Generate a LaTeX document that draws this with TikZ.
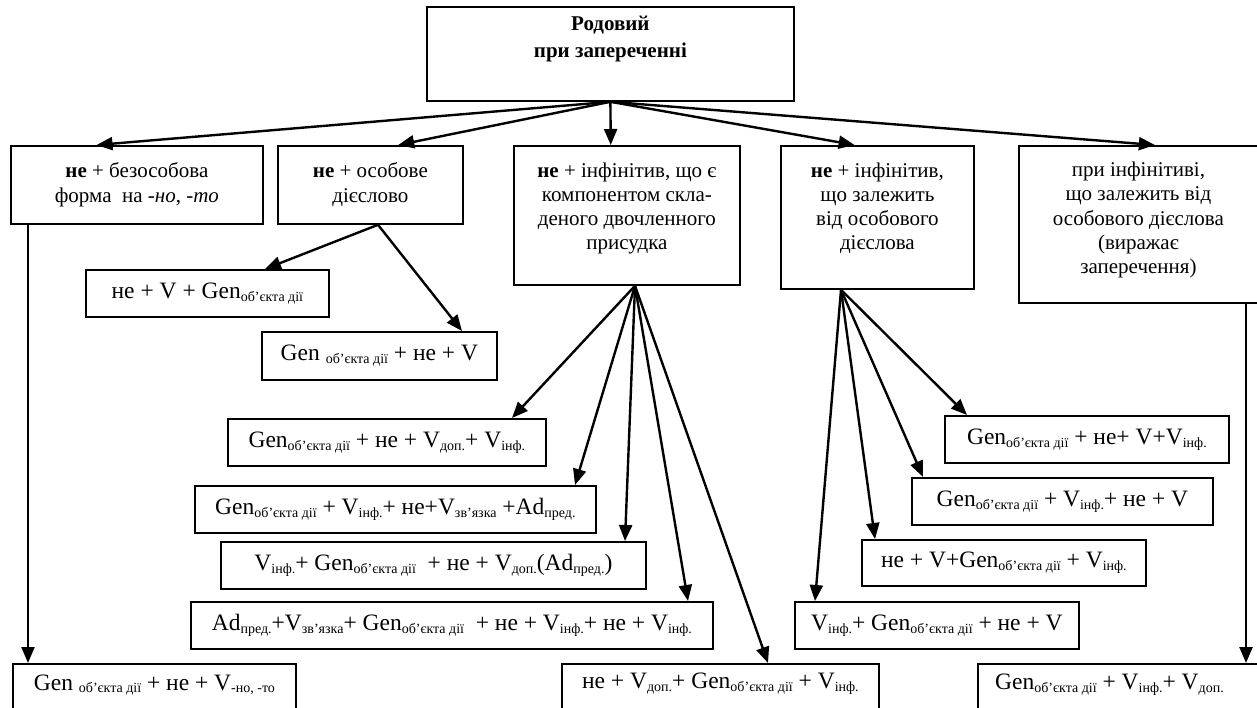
\documentclass[tikz,border=0pt]{standalone}
\usepackage{fontspec}
\setmainfont{Liberation Serif}
\usetikzlibrary{arrows.meta,calc}
% small lowered index text used in the formulas
\newcommand{\lo}[1]{\raisebox{-2.8pt}{\fontsize{14}{14}\selectfont #1}}
% rectangle node given by its corners (x1,y1) top-left, (x2,y2) bottom-right
\newcommand{\boxat}[5]{\node[box, minimum width={(#4-#2)*1pt}, minimum height={(#5-#3)*1pt}] (#1) at (#2,#3) {};}
\begin{document}
\begin{tikzpicture}[x=1pt,y=-1pt,
  box/.style={draw, line width=1.8pt, anchor=north west, inner sep=0pt},
  head/.style={font=\fontsize{21}{27}\selectfont\bfseries, align=center, anchor=north, inner sep=0pt},
  cat/.style={font=\fontsize{21}{24}\selectfont, align=center, anchor=north, inner sep=0pt},
  frm/.style={font=\fontsize{23.5}{24}\selectfont, inner sep=0pt},
  arr/.style={line width=2.4pt, -{Triangle[length=16pt,width=13pt]}}]
\useasboundingbox (0,0) rectangle (1257,708);

% boxes
\boxat{top}{426}{6}{793}{100}
\boxat{b1}{10}{145}{262}{223}
\boxat{b2}{277}{145}{462}{223}
\boxat{b3}{513}{145}{739}{284}
\boxat{b4}{780}{145}{973}{288}
\boxat{b5}{1018}{145}{1265}{302}
\boxat{n1}{85}{269}{328}{316}
\boxat{n2}{261}{331}{496}{379}
\boxat{fa}{227}{418}{545}{465}
\boxat{fb}{194}{485}{595}{532}
\boxat{fc}{220}{541}{645}{588}
\boxat{fd}{190}{601}{712}{648}
\boxat{fe}{561}{663}{878}{720}
\boxat{ff}{12}{663}{295}{720}
\boxat{fg}{944}{415}{1228}{462}
\boxat{fh}{911}{477}{1212}{524}
\boxat{fi}{861}{539}{1145}{585}
\boxat{fj}{794}{601}{1078}{648}
\boxat{fk}{977}{663}{1265}{720}

% texts
\node[head] (ttop) at ([yshift=-10pt]top.north) {Родовий\\при запереченні};
\node[cat, font=\fontsize{21}{25}\selectfont] (t1) at ([yshift=-17pt]b1.north) {\textbf{не} + безособова\\форма\ \ на \textit{-но}, \textit{-то}};
\node[cat, font=\fontsize{21}{25}\selectfont] (t2) at ([yshift=-17pt]b2.north) {\textbf{не} + особове\\дієслово};
\node[cat] (t3) at ([yshift=-18pt]b3.north) {\textbf{не} + інфінітив, що є\\компонентом скла-\\деного двочленного\\присудка};
\node[cat] (t4) at ([yshift=-18pt]b4.north) {\textbf{не} + інфінітив,\\що залежить\\від особового\\дієслова};
\node[cat, font=\fontsize{21}{24.2}\selectfont] (t5) at ([xshift=-4pt,yshift=-17pt]b5.north) {при інфінітиві,\\що залежить від\\особового дієслова\\(виражає\\заперечення)};

\node[frm] (tn1) at (n1.center) {не + V + Gen\lo{об’єкта дії}};
\node[frm] (tn2) at (n2.center) {Gen \lo{об’єкта дії} + не + V};
\node[frm] (tfa) at (fa.center) {Gen\lo{об’єкта дії} + не + V\lo{доп.}+ V\lo{інф.}};
\node[frm] (tfb) at (fb.center) {Gen\lo{об’єкта дії} + V\lo{інф.}+ не+V\lo{зв’язка} +Ad\lo{пред.}};
\node[frm] (tfc) at (fc.center) {V\lo{інф.}+ Gen\lo{об’єкта дії}\ \ + не + V\lo{доп.}(Ad\lo{пред.})};
\node[frm] (tfd) at (fd.center) {Ad\lo{пред.}+V\lo{зв’язка}+ Gen\lo{об’єкта дії}\ \ + не + V\lo{інф.}+ не + V\lo{інф.}};
\node[frm] (tfe) at ([yshift=-21pt]fe.north) {не + V\lo{доп.}+ Gen\lo{об’єкта дії} + V\lo{інф.}};
\node[frm] (tff) at ([yshift=-22pt]ff.north) {Gen \lo{об’єкта дії} + не + V\lo{-но, -то}};
\node[frm] (tfg) at (fg.center) {Gen\lo{об’єкта дії} + не+ V+V\lo{інф.}};
\node[frm] (tfh) at (fh.center) {Gen\lo{об’єкта дії} + V\lo{інф.}+ не + V};
\node[frm] (tfi) at (fi.center) {не + V+Gen\lo{об’єкта дії} + V\lo{інф.}};
\node[frm] (tfj) at (fj.center) {V\lo{інф.}+ Gen\lo{об’єкта дії} + не + V};
\node[frm, anchor=west] (tfk) at ($(fk.north west)+(18,22)$) {Gen\lo{об’єкта дії} + V\lo{інф.}+ V\lo{доп.}};

% connectors from the heading
\draw[arr] (top.south) -- ($(b1.north west)!0.341!(b1.north east)$);
\draw[arr] (top.south) -- ($(b2.north west)!0.649!(b2.north east)$);
\draw[arr] (top.south) -- ($(b3.north west)!0.429!(b3.north east)$);
\draw[arr] (top.south) -- ($(b4.north west)!0.383!(b4.north east)$);
\draw[arr] (top.south) -- ($(b5.north west)!0.55!(b5.north east)$);

% vertical connectors on the sides
\draw[arr] ($(b1.south west)+(18,0)$) -- ($(ff.north west)+(16,0)$);
\draw[arr] ($(b5.south west)+(228,0)$) -- ($(fk.north west)+(269,0)$);

% personal verb
\coordinate (o2) at ($(b2.south west)+(101,0)$);
\draw[arr] (o2) -- ($(n1.north west)+(180,0)$);
\draw[arr] (o2) -- ($(n2.north west)+(201,0)$);

% compound predicate
\coordinate (o3) at ($(b3.south west)+(122,0)$);
\draw[arr] (o3) -- ($(fa.north west)+(285,0)$);
\draw[arr] (o3) -- ($(fb.north west)+(381,0)$);
\draw[arr] (o3) -- ($(fc.north west)+(405,0)$);
\draw[arr] (o3) -- ($(fd.north west)+(498,0)$);
\draw[arr] (o3) -- ($(fe.north west)+(207,0)$);

% dependent infinitive
\coordinate (o4) at ($(b4.south west)+(61,0)$);
\draw[arr] (o4) -- ($(fg.north west)+(23,0)$);
\draw[arr] (o4) -- ($(fh.north west)+(12,0)$);
\draw[arr] (o4) -- ($(fi.north west)+(14,0)$);
\draw[arr] (o4) -- ($(fj.north west)+(21,0)$);
\end{tikzpicture}
\end{document}
